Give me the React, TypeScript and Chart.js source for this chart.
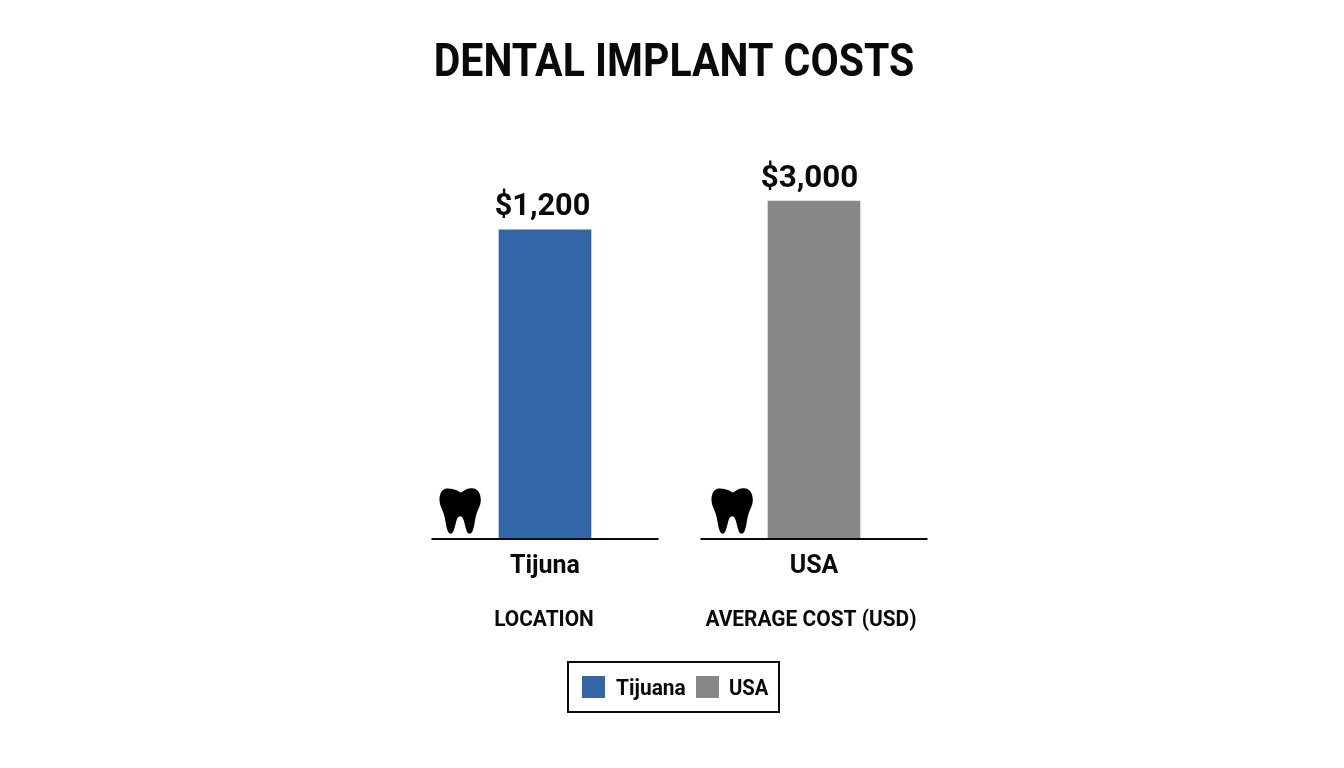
import { useEffect, useRef } from 'react';
import { Chart, registerables } from 'chart.js';

Chart.register(...registerables);

const categories = ['Tijuna', 'USA'];
const costs = [1200, 3000];
const costLabels = ['$1,200', '$3,000'];
const legendNames = ['Tijuana', 'USA'];
const barColors = ['#3366a6', '#858788'];

// each bar sits on its own baseline and hidden scale, like two small panels
const scaleMaxes = [1704, 3896];

const FONT = 'Roboto, sans-serif';
const TOOTH = new Path2D(
  'M64 14C50 4 30 0 18 2C4 6 0 20 0 36C0 55 12 68 16 90C20 110 22 137 34 137C49 137 46 85 62 85C78 85 75 137 90 137C102 137 104 110 108 90C112 68 124 55 124 36C124 15 114 2 98 1C88 0 78 4 72 9L52 20Z'
);

function text(
  ctx: CanvasRenderingContext2D,
  str: string,
  x: number,
  y: number,
  size: number,
  squeeze = 1,
  align: CanvasTextAlign = 'center'
) {
  ctx.save();
  ctx.translate(x, y);
  ctx.scale(squeeze, 1);
  ctx.font = `bold ${size}px ${FONT}`;
  ctx.fillStyle = '#0a0a0a';
  ctx.textAlign = align;
  ctx.textBaseline = 'alphabetic';
  ctx.fillText(str, 0, 0);
  ctx.restore();
}

const decorations = {
  id: 'decorations',
  beforeDraw(chart: any) {
    const { ctx, width, height } = chart;
    ctx.save();
    ctx.fillStyle = '#ffffff';
    ctx.fillRect(0, 0, width, height);
    ctx.restore();
  },
  afterDatasetsDraw(chart: any) {
    const { ctx, scales, chartArea } = chart;
    const base = chartArea.bottom;

    // baselines and teeth
    categories.forEach((_, i) => {
      const cx = scales.x.getPixelForValue(i);
      ctx.save();
      ctx.strokeStyle = '#0a0a0a';
      ctx.lineWidth = 2;
      ctx.beginPath();
      ctx.moveTo(cx - 113.5, base);
      ctx.lineTo(cx + 113.5, base);
      ctx.stroke();
      ctx.translate(cx + (i === 0 ? -105.5 : -102.5), base - 51);
      ctx.scale(1 / 3, 1 / 3);
      ctx.fillStyle = '#000000';
      ctx.fill(TOOTH);
      ctx.restore();
    });

    // value labels
    chart.data.datasets.forEach((_: any, i: number) => {
      const bar = chart.getDatasetMeta(i).data[i];
      text(ctx, costLabels[i], bar.x - (i === 0 ? 2.5 : 4.5), bar.y - (i === 0 ? 15 : 14), 32, i === 0 ? 0.96 : 0.98);
    });

    text(ctx, 'DENTAL IMPLANT COSTS', 674, 76, 46, 0.892);
    text(ctx, 'LOCATION', 544, 626, 22, 0.95);
    text(ctx, 'AVERAGE COST (USD)', 811, 626, 22, 0.95);

    // legend
    ctx.save();
    ctx.strokeStyle = '#0a0a0a';
    ctx.lineWidth = 2;
    ctx.strokeRect(568, 662, 211, 50);
    ctx.fillStyle = barColors[0];
    ctx.fillRect(582, 676, 23, 22);
    ctx.fillStyle = barColors[1];
    ctx.fillRect(696, 676, 23, 22);
    ctx.restore();
    text(ctx, legendNames[0], 616, 695, 22, 0.95, 'left');
    text(ctx, legendNames[1], 729, 695, 22, 0.92, 'left');
  },
};

export default function App() {
  const canvasRef = useRef<HTMLCanvasElement>(null);

  useEffect(() => {
    if (!canvasRef.current) return;
    const chart = new Chart(canvasRef.current, {
      type: 'bar',
      data: {
        labels: categories,
        datasets: categories.map((_, i) => ({
          label: legendNames[i],
          data: costs.map((v, j) => (j === i ? v : null)),
          backgroundColor: barColors[i],
          yAxisID: i === 0 ? 'y' : 'y2',
          grouped: false,
          barThickness: 92,
        })),
      },
      options: {
        animation: false,
        responsive: false,
        layout: { padding: { left: 410.5, right: 395.5, top: 100, bottom: 189 } },
        plugins: { legend: { display: false }, title: { display: false }, tooltip: { enabled: false } },
        scales: {
          x: {
            grid: { display: false },
            border: { display: false },
            ticks: { color: '#0a0a0a', font: { family: FONT, size: 25, weight: 'bold' }, padding: 5 },
            afterFit: (scale: any) => {
              scale.height = 40;
            },
          },
          y: { display: false, min: 0, max: scaleMaxes[0] },
          y2: { display: false, min: 0, max: scaleMaxes[1] },
        },
      },
      plugins: [decorations],
    } as any);

    return () => {
      chart.destroy();
    };
  }, []);

  return (
    <div style={{ position: 'fixed', left: 0, top: 0, width: 1344, height: 768, background: '#fff' }}>
      <canvas ref={canvasRef} width={1344} height={768} style={{ display: 'block' }} />
    </div>
  );
}
